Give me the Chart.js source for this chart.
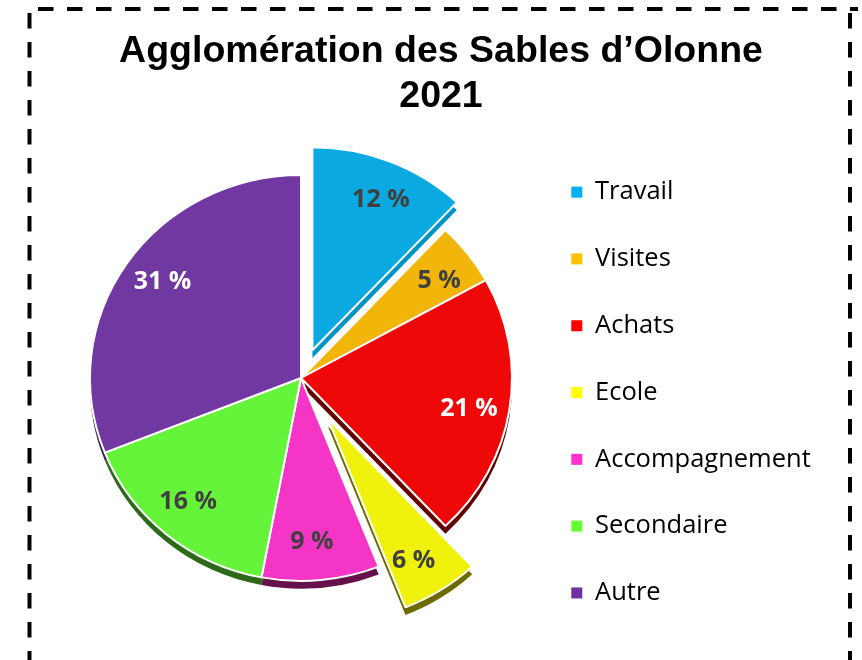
<!DOCTYPE html>
<html lang="fr">
<head>
<meta charset="utf-8">
<title>Agglomération des Sables d’Olonne 2021</title>
<script src="https://cdn.jsdelivr.net/npm/chart.js@4"></script>
<style>
  html, body { margin: 0; padding: 0; background: #fff; }
  #wrap { position: relative; width: 862px; height: 660px; overflow: hidden; }
  #wrap canvas { position: absolute; left: 0; top: 0; }
  #title {
    position: absolute; left: 20px; top: 27px; width: 842px; margin: 0;
    text-align: center; color: #000;
    font: bold 37.5px/45px "Liberation Sans", Arial, sans-serif;
  }
</style>
</head>
<body>
<div id="wrap">
  <canvas id="chart" width="862" height="660"></canvas>
  <h1 id="title">Agglomération des Sables d’Olonne<br>2021</h1>
</div>
<script>
/* ---- data ---- */
const categories = ["Travail", "Visites", "Achats", "Ecole", "Accompagnement", "Secondaire", "Autre"];
const shares = [12, 5, 21, 6, 9, 16, 31];   // %

/* ---- styles ---- */
const sliceColors  = ["#0BA9E2", "#F2B50A", "#EF0808", "#F1F10E", "#F535C5", "#66F43A", "#7038A0"];
const legendColors = ["#00B0F0", "#FFC000", "#FF0000", "#FFFF00", "#FF33CC", "#66FF33", "#7030A0"];
const sideColors   = ["#0093C6", "#A67A00", "#640000", "#6B6B00", "#66104C", "#2C6A18", "#3C1C5A"];
const labelColors  = ["#404040", "#404040", "#FFFFFF", "#404040", "#404040", "#404040", "#FFFFFF"];
const explode      = [31, 0, 0, 50, 0, 0, 0];

// dashed frame round the whole figure
const framePlugin = {
  id: "frame",
  beforeDraw(chart) {
    const ctx = chart.ctx;
    ctx.save();
    ctx.strokeStyle = "#000";
    ctx.lineWidth = 4;
    ctx.setLineDash([15.5, 13.5]);
    ctx.beginPath();
    ctx.moveTo(38, 9);    ctx.lineTo(858, 9);
    ctx.moveTo(29.5, 13); ctx.lineTo(29.5, 680);
    ctx.moveTo(850, 13);  ctx.lineTo(850, 680);
    ctx.stroke();
    ctx.restore();
  }
};

// draws the pie slightly squashed, with a dark rim and pulled-out slices
const explodedPie = {
  id: "explodedPie",
  beforeDatasetsDraw(chart, args, opts) {
    const ctx = chart.ctx;
    const arcs = chart.getDatasetMeta(0).data;
    if (!arcs.length) return;
    const cx = arcs[0].x, cy = arcs[0].y;
    ctx.save();
    ctx.translate(cx, cy); ctx.scale(1, opts.squash); ctx.translate(-cx, -cy);

    arcs.forEach((arc, i) => {
      const mid = (arc.startAngle + arc.endAngle) / 2;
      const d = explode[i] || 0;
      ctx.save();
      ctx.translate(Math.cos(mid) * d, Math.sin(mid) * d + opts.depth);
      ctx.fillStyle = sideColors[i];
      ctx.beginPath();
      ctx.moveTo(arc.x, arc.y);
      ctx.arc(arc.x, arc.y, arc.outerRadius, arc.startAngle, arc.endAngle);
      ctx.closePath();
      ctx.fill();
      ctx.restore();
    });

    arcs.forEach((arc, i) => {
      const mid = (arc.startAngle + arc.endAngle) / 2;
      const d = explode[i] || 0;
      ctx.save();
      ctx.translate(Math.cos(mid) * d, Math.sin(mid) * d);
      arc.draw(ctx);
      ctx.restore();
    });
    ctx.restore();
    return false;
  }
};

// "12 %" style labels inside the slices
const sliceLabels = {
  id: "sliceLabels",
  afterDraw(chart, args, opts) {
    const ctx = chart.ctx;
    const meta = chart.getDatasetMeta(0);
    const squash = chart.options.plugins.explodedPie.squash;
    ctx.save();
    ctx.font = "bold 25px 'Open Sans', sans-serif";
    ctx.textAlign = "center";
    ctx.textBaseline = "middle";
    meta.data.forEach((arc, i) => {
      const mid = (arc.startAngle + arc.endAngle) / 2 + opts.turn;
      const r = (explode[i] || 0) + arc.outerRadius * opts.position;
      ctx.fillStyle = labelColors[i];
      ctx.fillText(shares[i] + " %", arc.x + Math.cos(mid) * r, arc.y + Math.sin(mid) * r * squash);
    });
    ctx.restore();
  }
};

new Chart(document.getElementById("chart"), {
  type: "pie",
  data: {
    labels: categories,
    datasets: [{
      data: shares,
      backgroundColor: sliceColors,
      borderColor: "#FFFFFF",
      borderWidth: 2
    }]
  },
  options: {
    responsive: false,
    animation: false,
    radius: 211,
    layout: { padding: { top: 109, bottom: 13, left: 72, right: 42 } },
    plugins: {
      title: { display: false },
      tooltip: { enabled: false },
      explodedPie: { squash: 0.962, depth: 8 },
      sliceLabels: { position: 0.81, turn: 0.03 },
      legend: {
        position: "right",
        align: "end",
        maxWidth: 290,
        labels: {
          color: "#595959",
          font: { family: "'Open Sans', sans-serif", size: 25.5 },
          boxWidth: 11,
          boxHeight: 11,
          padding: 41.3,
          generateLabels(chart) {
            return categories.map((c, i) => ({
              text: c, fillStyle: legendColors[i], strokeStyle: legendColors[i],
              lineWidth: 0, hidden: false, index: i
            }));
          }
        }
      }
    }
  },
  plugins: [framePlugin, explodedPie, sliceLabels]
});
</script>
</body>
</html>
